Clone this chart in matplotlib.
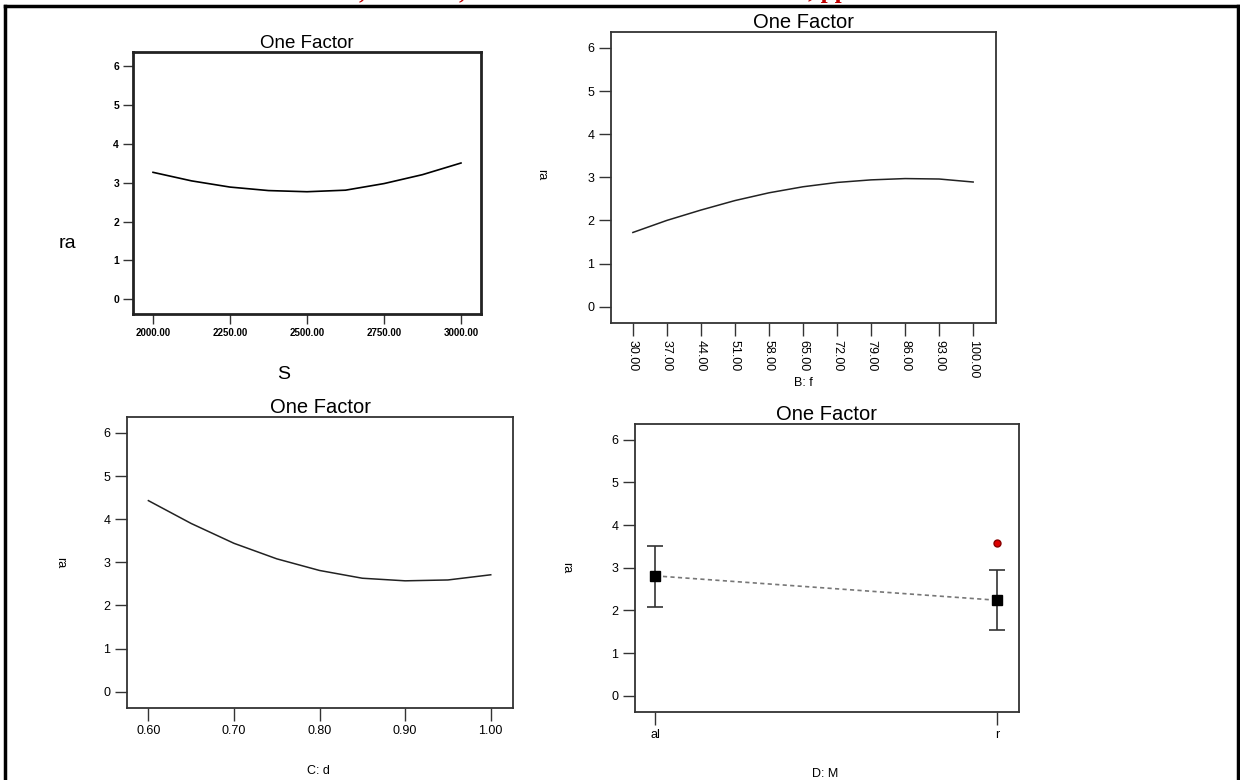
import matplotlib
matplotlib.use("Agg")
import matplotlib.pyplot as plt
from matplotlib.lines import Line2D

# Data

s_vals = [2000, 2125, 2250, 2375, 2500, 2625, 2750, 2875, 3000]
s_ra = [3.27, 3.05, 2.89, 2.80, 2.77, 2.81, 2.98, 3.21, 3.51]
s_ticks = [2000, 2250, 2500, 2750, 3000]

f_vals = [30, 37, 44, 51, 58, 65, 72, 79, 86, 93, 100]
f_ra = [1.72, 2.00, 2.24, 2.46, 2.64, 2.78, 2.88, 2.94, 2.97, 2.96, 2.89]

d_vals = [0.60, 0.65, 0.70, 0.75, 0.80, 0.85, 0.90, 0.95, 1.00]
d_ra = [4.43, 3.90, 3.44, 3.08, 2.81, 2.63, 2.57, 2.59, 2.71]
d_ticks = [0.60, 0.70, 0.80, 0.90, 1.00]

m_cats = ["al", "r"]
m_mean = [2.81, 2.24]
m_low = [2.09, 1.54]
m_high = [3.51, 2.94]
m_point = 3.58  # red design point at "r"

y_ticks = [0, 1, 2, 3, 4, 5, 6]

W, H = 1240, 780
fig = plt.figure(figsize=(W / 100, H / 100), dpi=100)
fig.patch.set_facecolor("white")

NARROW = ["Liberation Sans Narrow", "Liberation Sans", "DejaVu Sans"]
SANS = ["Liberation Sans", "DejaVu Sans"]


def px_axes(x0, y0, x1, y1):
    return fig.add_axes([x0 / W, 1 - y1 / H, (x1 - x0) / W, (y1 - y0) / H])


def style(ax, lw=1.3, col="#333333", tl=9):
    for sp in ax.spines.values():
        sp.set_linewidth(lw)
        sp.set_color(col)
    ax.tick_params(direction="out", length=tl, width=1.0, color="#333333", pad=3)
    ax.set_ylim(-0.38, 6.37)
    ax.set_yticks(y_ticks)


# outer frame
fig.add_artist(Line2D([5 / W, 1238 / W], [1 - 6 / H, 1 - 6 / H], color="black", lw=2.5))
fig.add_artist(Line2D([5 / W, 5 / W], [0, 1 - 6 / H], color="black", lw=2.5))
fig.add_artist(Line2D([1238 / W, 1238 / W], [0, 1 - 6 / H], color="black", lw=2.5))

# header of the page above, almost entirely cut off (only descenders show)
for hx, htxt in [(359, ","), (459, ","), (808, ", pp")]:
    fig.text(hx / W, 1 + 2 / H, htxt, color="#c00000", fontsize=18,
             fontweight="bold", family="Liberation Serif", ha="left", va="baseline")

# Panel 1: S
ax1 = px_axes(133, 52, 481, 314)
style(ax1, lw=2.0, col="#222222", tl=7)
ax1.plot(s_vals, s_ra, color="black", lw=1.2)
ax1.set_xlim(1935, 3065)
ax1.set_xticks(s_ticks)
ax1.set_xticklabels(["%.2f" % v for v in s_ticks], family=NARROW, fontsize=7, fontweight="bold")
for lab in ax1.get_yticklabels():
    lab.set_family(NARROW)
    lab.set_fontsize(7.5)
    lab.set_fontweight("bold")
ax1.set_title("One Factor", fontsize=13.5, family=SANS, pad=2)
ax1.set_ylabel("ra", rotation=0, fontsize=14, family=NARROW)
ax1.yaxis.set_label_coords(-0.187, 0.235)
ax1.set_xlabel("S", fontsize=14, family=NARROW)
ax1.xaxis.set_label_coords(0.434, -0.20)

# Panel 2: f
ax2 = px_axes(611, 32, 996, 323)
style(ax2)
ax2.plot(f_vals, f_ra, color="#222222", lw=1.1)
ax2.set_xlim(25.5, 104.7)
ax2.set_xticks(f_vals)
ax2.set_xticklabels(["%.2f" % v for v in f_vals], rotation=270, family=SANS, fontsize=9)
for lab in ax2.get_yticklabels():
    lab.set_family(SANS)
    lab.set_fontsize(9)
ax2.set_title("One Factor", fontsize=14.5, family=SANS, pad=3)
ax2.set_ylabel("ra", rotation=270, fontsize=9, family=SANS)
ax2.yaxis.set_label_coords(-0.197, 0.51)
ax2.set_xlabel("B: f", fontsize=9, family=SANS)
ax2.xaxis.set_label_coords(0.5, -0.186)

# Panel 3: d
ax3 = px_axes(127, 417, 513, 708)
style(ax3)
ax3.plot(d_vals, d_ra, color="#222222", lw=1.1)
ax3.set_xlim(0.575, 1.026)
ax3.set_xticks(d_ticks)
ax3.set_xticklabels(["%.2f" % v for v in d_ticks], family=SANS, fontsize=9)
for lab in ax3.get_yticklabels():
    lab.set_family(SANS)
    lab.set_fontsize(9)
ax3.set_title("One Factor", fontsize=14.5, family=SANS, pad=3)
ax3.set_ylabel("ra", rotation=270, fontsize=9, family=SANS)
ax3.yaxis.set_label_coords(-0.19, 0.5)
ax3.set_xlabel("C: d", fontsize=9, family=SANS)
ax3.xaxis.set_label_coords(0.495, -0.196)

# Panel 4: M
ax4 = px_axes(635, 424, 1019, 712)
style(ax4)
xs = list(range(len(m_cats)))
ax4.plot(xs, m_mean, color="#777777", lw=1.2, linestyle=(0, (2.5, 2)))
err = [[m - lo for m, lo in zip(m_mean, m_low)], [hi - m for m, hi in zip(m_mean, m_high)]]
ax4.errorbar(xs, m_mean, yerr=err, fmt="s", color="black", ms=6.5,
             ecolor="#333333", elinewidth=1.2, capsize=6, capthick=1.2)
ax4.plot([xs[-1]], [m_point], "o", color="#dd0000", mec="#880000", ms=5)
ax4.set_xlim(-0.06, 1.065)
ax4.set_xticks(xs)
ax4.set_xticklabels(m_cats, family=SANS, fontsize=9)
for lab in ax4.get_yticklabels():
    lab.set_family(SANS)
    lab.set_fontsize(9)
ax4.set_title("One Factor", fontsize=14.5, family=SANS, pad=3)
ax4.set_ylabel("ra", rotation=270, fontsize=9, family=SANS)
ax4.yaxis.set_label_coords(-0.195, 0.5)
ax4.set_xlabel("D: M", fontsize=9, family=SANS)
ax4.xaxis.set_label_coords(0.495, -0.194)

fig.savefig("out.png", dpi=100, facecolor="white")
